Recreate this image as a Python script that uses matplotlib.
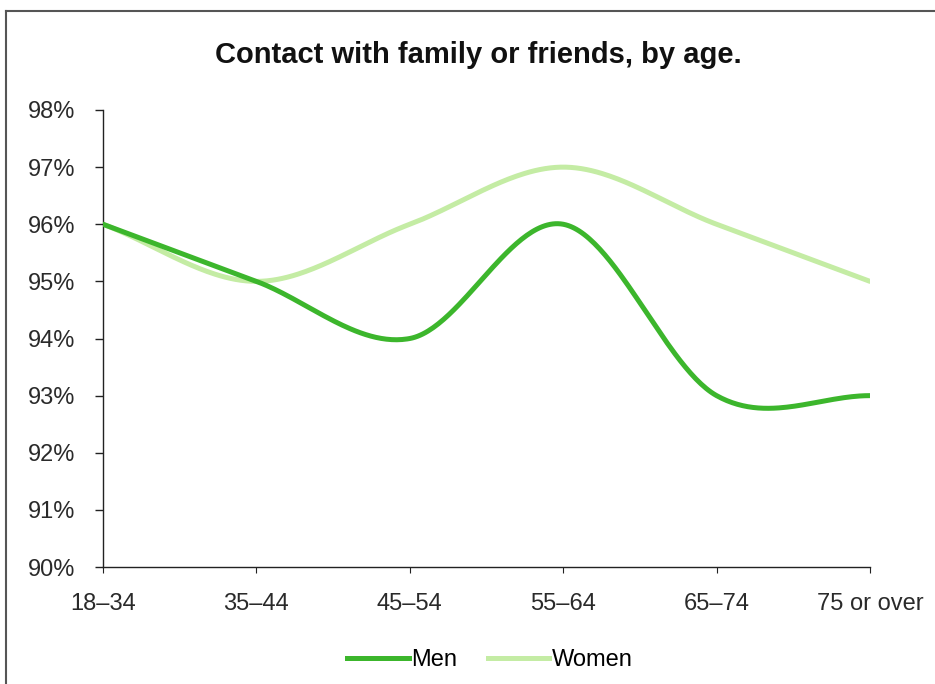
import numpy as np
import matplotlib
matplotlib.use("Agg")
import matplotlib.pyplot as plt
from matplotlib.lines import Line2D

plt.rcParams['font.family'] = ['Liberation Sans', 'DejaVu Sans']

ages = ['18–34', '35–44', '45–54', '55–64', '65–74', '75 or over']
men = [96, 95, 94, 96, 93, 93]
women = [96, 95, 96, 97, 96, 95]

men_color = '#3cb62c'
women_color = '#c4eca4'


def smooth(vals, n=60):
    # catmull-rom style curve through the points
    v = np.array(vals, dtype=float)
    k = len(v)
    m = np.zeros(k)
    m[0] = v[1] - v[0]
    m[-1] = v[-1] - v[-2]
    for i in range(1, k - 1):
        m[i] = (v[i + 1] - v[i - 1]) / 2
    xs, ys = [], []
    for i in range(k - 1):
        t = np.linspace(0, 1, n)
        h00 = 2 * t**3 - 3 * t**2 + 1
        h10 = t**3 - 2 * t**2 + t
        h01 = -2 * t**3 + 3 * t**2
        h11 = t**3 - t**2
        xs.append(i + t)
        ys.append(h00 * v[i] + h10 * m[i] + h01 * v[i + 1] + h11 * m[i + 1])
    return np.concatenate(xs), np.concatenate(ys)


fig = plt.figure(figsize=(9.35, 6.84), dpi=100)
ax = fig.add_axes([103 / 935, 1 - 567 / 684, (870 - 103) / 935, (567 - 110) / 684])

x, y = smooth(women)
ax.plot(x, y, color=women_color, lw=3.6, solid_capstyle='round', zorder=2)
x, y = smooth(men)
ax.plot(x, y, color=men_color, lw=3.6, solid_capstyle='round', zorder=3)

ax.set_xlim(0, len(ages) - 1)
ax.set_ylim(90, 98)
ax.set_yticks(range(90, 99))
ax.set_yticklabels([f'{t}%' for t in range(90, 99)])
ax.set_xticks(range(len(ages)))
ax.set_xticklabels(ages)

for s in ['top', 'right']:
    ax.spines[s].set_visible(False)
for s in ['left', 'bottom']:
    ax.spines[s].set_linewidth(1.0)
    ax.spines[s].set_color('#222222')
ax.tick_params(axis='y', direction='out', length=6, width=1, labelsize=17, colors='#222222', pad=14)
ax.tick_params(axis='x', direction='out', length=4, width=0.8, labelsize=17, colors='#222222', pad=15)
for lbl in ax.get_xticklabels() + ax.get_yticklabels():
    lbl.set_color('#2a2a2a')

fig.text(478 / 935, 1 - 55 / 684, 'Contact with family or friends, by age.',
         ha='center', va='center', fontsize=21, fontweight='bold', color='#111111')

handles = [Line2D([], [], color=men_color, lw=3.6),
           Line2D([], [], color=women_color, lw=3.6)]
fig.legend(handles, ['Men', 'Women'], loc='center', bbox_to_anchor=(490 / 935, 1 - 660 / 684),
           ncol=2, frameon=False, fontsize=17, handlelength=2.6, handletextpad=0.1,
           columnspacing=1.3)

# thin frame on the left and top edges
fig.add_artist(Line2D([6 / 935, 6 / 935], [0, 1 - 11 / 684], transform=fig.transFigure,
                      color='#555555', lw=1.5))
fig.add_artist(Line2D([6 / 935, 1], [1 - 11 / 684, 1 - 11 / 684], transform=fig.transFigure,
                      color='#555555', lw=1.5))

fig.savefig('out.png', dpi=100)
